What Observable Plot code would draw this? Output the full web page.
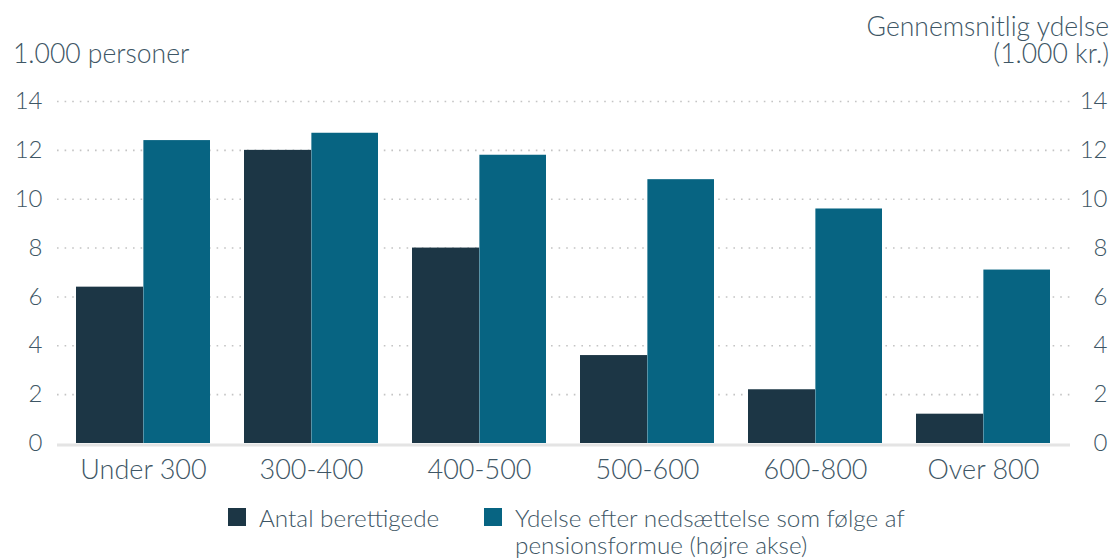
<!DOCTYPE html>
<html><head><meta charset="utf-8">
<script src="https://cdn.jsdelivr.net/npm/d3@7"></script>
<script src="https://cdn.jsdelivr.net/npm/@observablehq/plot@0.6"></script>
<style>
body{margin:0;background:#fff;font-family:Lato,sans-serif;font-weight:300;color:#3e5665;}
#wrap{position:relative;width:1114px;height:558px;}
#wrap svg{position:absolute;left:0;top:0;}
.t{position:absolute;white-space:pre;}
.sw{position:absolute;width:18px;height:18px;}
</style></head><body>
<div id="wrap"></div>
<script>
const categories = ["Under 300","300-400","400-500","500-600","600-800","Over 800"];
const series = ["Antal berettigede","Ydelse efter nedsættelse som følge af pensionsformue (højre akse)"];
const antal = [6.4, 12.0, 8.0, 3.6, 2.2, 1.2];
const ydelse = [12.4, 12.7, 11.8, 10.8, 9.6, 7.1];
const yTicks = [0,2,4,6,8,10,12,14];
const colors = ["#1c3645","#076482"];

const W = 1114, H = 490, mL = 57, mR = 44, mT = 101, mB = 47;
const pIn = 0.2, pOut = 0.107;
const band = d3.scaleBand().domain(categories).range([mL, W - mR]).paddingInner(pIn).paddingOuter(pOut);
const half = band.bandwidth() / 2;

const dA = categories.map((c,i)=>({cat:c, v:antal[i]}));
const dY = categories.map((c,i)=>({cat:c, v:ydelse[i]}));

const plot = Plot.plot({
  width:W, height:H,
  marginLeft:mL, marginRight:mR, marginTop:mT, marginBottom:mB,
  style:{fontFamily:"Lato, sans-serif", fontWeight:300, color:"#3e5665", background:"transparent", overflow:"visible"},
  x:{domain:categories, paddingInner:pIn, paddingOuter:pOut},
  y:{domain:[0,14]},
  marks:[
    Plot.gridY(yTicks.filter(d=>d>0), {stroke:"#c4c4c4", strokeOpacity:1, strokeWidth:1.6, strokeDasharray:"1.6,6"}),
    Plot.barY(dA, {x:"cat", y1:0, y2:"v", fill:colors[0], insetRight:half - 0.5}),
    Plot.barY(dY, {x:"cat", y1:0, y2:"v", fill:colors[1], insetLeft:half}),
    Plot.ruleY([0], {stroke:"#e4e4e4", strokeWidth:3, dy:1.5}),
    Plot.axisX({tickSize:0, tickPadding:16, fontSize:27, label:null}),
    Plot.axisY(yTicks, {anchor:"left", tickSize:0, tickPadding:15, textAnchor:"end", fontSize:24, label:null}),
    Plot.axisY(yTicks, {anchor:"right", tickSize:0, tickPadding:0, textAnchor:"end", dx:37, fontSize:24, label:null})
  ]
});
const wrap = document.getElementById("wrap");
wrap.appendChild(plot);

function addText(txt, left, top, align, size){
  const d = document.createElement("div");
  d.className="t"; d.textContent = txt;
  d.style.fontSize = size+"px"; d.style.lineHeight = "27px";
  if(align==="right"){ d.style.right = left+"px"; d.style.textAlign="right"; } else d.style.left = left+"px";
  d.style.top = top+"px";
  wrap.appendChild(d);
}
addText("1.000 personer", 13, 40, "left", 26.5);
addText("Gennemsnitlig ydelse\n(1.000 kr.)", 5, 13, "right", 26.5);

const lg = [{x:228, c:colors[0], lines:series[0]},
            {x:484, c:colors[1], lines:"Ydelse efter nedsættelse som følge af\npensionsformue (højre akse)"}];
lg.forEach(l=>{
  const s=document.createElement("div"); s.className="sw"; s.style.left=l.x+"px"; s.style.top="508px"; s.style.background=l.c; wrap.appendChild(s);
  addText(l.lines, l.x+31, 504, "left", 24.3);
});
</script>
</body></html>
